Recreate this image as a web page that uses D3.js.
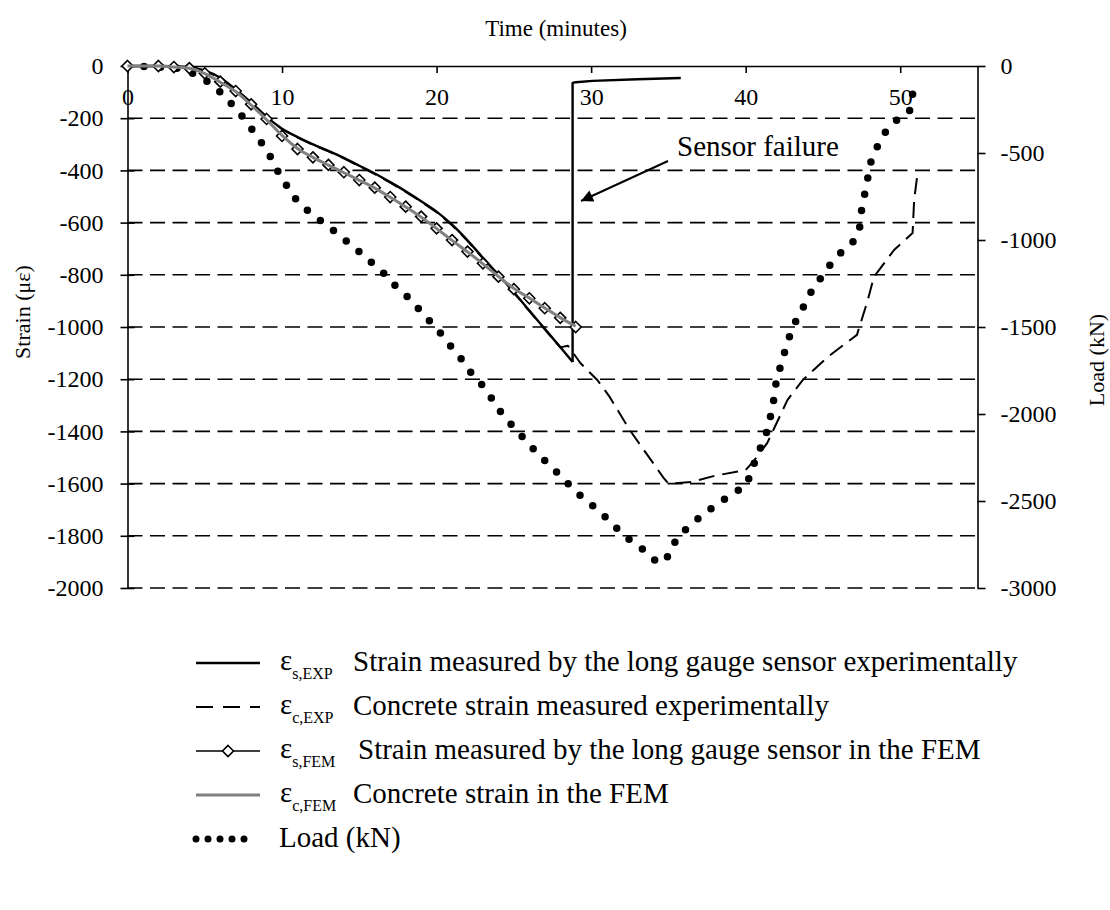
<!DOCTYPE html>
<html>
<head>
<meta charset="utf-8">
<script src="https://cdn.jsdelivr.net/npm/d3@7"></script>
<style>
  html, body { margin: 0; padding: 0; background: #fff; }
  svg { display: block; font-family: "Liberation Serif", "Times New Roman", serif; }
</style>
</head>
<body>
<svg id="chart" width="1110" height="910"></svg>
<script>
// ---- Data ----
const timeTicks = [0, 10, 20, 30, 40, 50];
const strainTicks = [0, -200, -400, -600, -800, -1000, -1200, -1400, -1600, -1800, -2000];
const loadTicks = [0, -500, -1000, -1500, -2000, -2500, -3000];

// ε_s,EXP : long gauge sensor, experiment (rising branch, then failure jump and tail)
const sExpTime   = [0, 2, 4, 5, 6, 7, 8, 9, 10, 11, 12, 13, 14, 15, 16, 17, 18, 19, 20, 21, 22, 23, 24, 25, 26, 27, 28, 28.8, 28.8, 29.0, 30.1, 33, 35.8];
const sExpStrain = [0, 0, -5, -18, -45, -90, -140, -195, -240, -272, -300, -325, -352, -382, -412, -445, -480, -518, -558, -608, -668, -735, -800, -867, -937, -1007, -1077, -1134, -65, -62, -57, -51, -46];
const sExpBreak = 27; // index of the last point before the failure jump

// ε_c,EXP : concrete strain, experiment
const cExpTime   = [0, 2, 4, 5, 6, 7, 8, 9, 10, 11, 12, 13, 14, 15, 16, 17, 18, 19, 20, 21, 22, 23, 24, 25, 26, 27, 28, 28.5, 28.8, 29.3, 30.4, 31.2, 32.5, 34.7, 35.0, 36.5, 38.0, 40.0, 40.5, 41.4, 42.7, 43.7, 45.3, 47.2, 47.9, 48.3, 49.6, 50.8, 50.9, 51.1];
const cExpStrain = [0, 0, -5, -18, -45, -90, -140, -195, -242, -274, -302, -327, -354, -384, -414, -447, -482, -520, -560, -610, -670, -737, -802, -869, -939, -1009, -1078, -1072, -1096, -1138, -1203, -1268, -1395, -1579, -1600, -1594, -1570, -1548, -1515, -1444, -1280, -1203, -1115, -1030, -897, -808, -705, -640, -513, -421];

// ε_s,FEM : long gauge sensor, finite element model
const sFemTime   = [0, 2, 3, 4, 5, 6, 7, 8, 9, 10, 11, 12, 13, 14, 15, 16, 17, 18, 19, 20, 21, 22, 23, 24, 25, 26, 27, 28, 29];
const sFemStrain = [0, 0, -4, -8, -28, -60, -96, -147, -203, -268, -318, -350, -379, -407, -437, -466, -502, -539, -577, -622, -667, -711, -756, -807, -855, -890, -928, -965, -1000];

// ε_c,FEM : concrete strain, finite element model
const cFemTime   = [0, 1, 2, 3, 4, 5, 6, 7, 8, 9, 10, 11, 12, 13, 14, 15, 16, 17, 18, 19, 20, 21, 22, 23, 24, 25, 26, 27, 28, 29];
const cFemStrain = [0, 0, 0, -4, -9, -29, -62, -98, -150, -206, -266, -316, -350, -380, -409, -438, -468, -503, -540, -579, -623, -668, -712, -758, -806, -852, -889, -927, -964, -997];

// Applied load (kN)
const loadTime = [0, 1.0, 3.1, 4.05, 4.95, 5.8, 6.5, 7.2, 7.9, 8.45, 9.1, 9.55, 10.1, 10.6, 11.3, 12.1, 12.95, 13.8, 14.3, 15.1, 15.9, 16.7, 17.4, 18.2, 18.9, 19.6, 20.3, 20.9, 21.6, 22.2, 22.9, 23.5, 24.1, 24.8, 25.5, 26.2, 26.9, 27.7, 28.4, 28.6, 29.4, 30.2, 31.0, 31.7, 32.5, 33.4, 34.1, 34.8, 35.2, 35.8, 36.6, 37.4, 38.3, 39.1, 40.0, 40.4, 40.7, 41.2, 41.5, 41.7, 41.9, 42.0, 42.4, 42.6, 42.9, 43.3, 43.8, 44.3, 44.9, 45.5, 46.2, 47.0, 47.4, 47.5, 47.7, 47.9, 48.1, 48.5, 49.0, 49.7, 50.6, 50.8, 50.8];
const loadKN   = [0, -3, -11, -34, -75, -132, -195, -264, -345, -414, -494, -580, -655, -736, -805, -862, -920, -977, -1017, -1075, -1138, -1201, -1270, -1333, -1402, -1471, -1540, -1609, -1684, -1759, -1828, -1902, -1983, -2057, -2126, -2195, -2259, -2328, -2391, -2408, -2477, -2534, -2598, -2661, -2724, -2782, -2839, -2851, -2764, -2690, -2625, -2567, -2511, -2460, -2414, -2328, -2241, -2149, -2063, -1971, -1879, -1787, -1695, -1609, -1540, -1454, -1374, -1287, -1213, -1138, -1069, -1006, -920, -828, -736, -644, -552, -466, -385, -316, -259, -167, -75];

// Legend entries
const legendSymbols = ["s,EXP", "c,EXP", "s,FEM", "c,FEM", null];
const legendTexts = [
  "Strain measured by the long gauge sensor experimentally",
  "Concrete strain measured experimentally",
  "Strain measured by the long gauge sensor in the FEM",
  "Concrete strain in the FEM",
  "Load (kN)"
];

// ---- Layout ----
const svg = d3.select("#chart");
const plot = { left: 127.5, right: 977.5, top: 66, bottom: 588 };

const x = d3.scaleLinear().domain([0, 55]).range([plot.left, plot.right]);
const yS = d3.scaleLinear().domain([-2000, 0]).range([plot.bottom, plot.top]);
const yL = d3.scaleLinear().domain([-3000, 0]).range([plot.bottom, plot.top]);

const zip = (a, b) => a.map((v, i) => [v, b[i]]);
const plain = d => String(d); // "-200" with an ASCII hyphen, no grouping
const tickFont = 24;

svg.append("rect").attr("width", 1110).attr("height", 910).attr("fill", "#fff");

// Dashed horizontal gridlines
svg.append("g").selectAll("line")
  .data(strainTicks.filter(d => d !== 0))
  .join("line")
  .attr("x1", plot.left).attr("x2", plot.right)
  .attr("y1", d => yS(d)).attr("y2", d => yS(d))
  .attr("stroke", "#000").attr("stroke-width", 1.6)
  .attr("stroke-dasharray", "15,7.5");

// Axes
const axisStyle = g => {
  g.select(".domain").attr("stroke", "#000").attr("stroke-width", 1.6);
  g.selectAll(".tick line").attr("stroke", "#000").attr("stroke-width", 1.6);
  g.selectAll(".tick text").attr("fill", "#000").attr("font-size", tickFont)
    .attr("font-family", "Liberation Serif, Times New Roman, serif");
};

// Top time axis: ticks inward, labels below the line
svg.append("g").attr("transform", `translate(0,${plot.top})`)
  .call(d3.axisBottom(x).tickValues(timeTicks).tickFormat(plain)
    .tickSizeInner(7).tickSizeOuter(0).tickPadding(15))
  .call(axisStyle);

// Left strain axis: crossing ticks
const gyS = svg.append("g").attr("transform", `translate(${plot.left},0)`)
  .call(d3.axisLeft(yS).tickValues(strainTicks).tickFormat(plain)
    .tickSizeInner(7).tickSizeOuter(0).tickPadding(17))
  .call(axisStyle);
gyS.selectAll(".tick line").attr("x1", -7).attr("x2", 7);
gyS.selectAll(".tick text").attr("x", -24);

// Right load axis: outward ticks
svg.append("g").attr("transform", `translate(${plot.right},0)`)
  .call(d3.axisRight(yL).tickValues(loadTicks).tickFormat(plain)
    .tickSizeInner(8).tickSizeOuter(0).tickPadding(15))
  .call(axisStyle);

// Axis titles
svg.append("text").attr("x", 556).attr("y", 36).attr("text-anchor", "middle")
  .attr("font-size", 23).text("Time (minutes)");
svg.append("text").attr("transform", "translate(22,312) rotate(-90)")
  .attr("text-anchor", "middle").attr("dominant-baseline", "central")
  .attr("font-size", 22).text("Strain (με)");
svg.append("text").attr("transform", "translate(1096,360) rotate(-90)")
  .attr("text-anchor", "middle").attr("dominant-baseline", "central")
  .attr("font-size", 22).text("Load (kN)");

// ---- Series ----
const lineS = d3.line().x(d => x(d[0])).y(d => yS(d[1]));
const smoothS = d3.line().x(d => x(d[0])).y(d => yS(d[1])).curve(d3.curveMonotoneX);
const lineL = d3.line().x(d => x(d[0])).y(d => yL(d[1]));

// Applied load: dotted line
svg.append("path").datum(zip(loadTime, loadKN))
  .attr("d", lineL).attr("fill", "none").attr("stroke", "#000")
  .attr("stroke-width", 7.5).attr("stroke-linecap", "round")
  .attr("stroke-dasharray", "0,16.5");

// Concrete strain, experiment: dashed
svg.append("path").datum(zip(cExpTime, cExpStrain))
  .attr("d", lineS).attr("fill", "none").attr("stroke", "#000")
  .attr("stroke-width", 2).attr("stroke-dasharray", "16,8")
  .attr("stroke-linejoin", "round");

// Sensor strain, experiment: smooth rising branch, then the failure jump
const sExp = zip(sExpTime, sExpStrain);
svg.append("path").datum(sExp.slice(0, sExpBreak + 1))
  .attr("d", smoothS).attr("fill", "none").attr("stroke", "#000")
  .attr("stroke-width", 2.4).attr("stroke-linejoin", "round");
svg.append("path").datum(sExp.slice(sExpBreak))
  .attr("d", lineS).attr("fill", "none").attr("stroke", "#000")
  .attr("stroke-width", 2.4).attr("stroke-linejoin", "round");

// Sensor strain, FEM: thin line with diamonds
svg.append("path").datum(zip(sFemTime, sFemStrain))
  .attr("d", lineS).attr("fill", "none").attr("stroke", "#000")
  .attr("stroke-width", 1.4);
const diamond = "M0,-5.5L5.5,0L0,5.5L-5.5,0Z";
svg.append("g").selectAll("path")
  .data(zip(sFemTime, sFemStrain))
  .join("path")
  .attr("d", diamond)
  .attr("transform", d => `translate(${x(d[0])},${yS(d[1])})`)
  .attr("fill", "#fff").attr("stroke", "#000").attr("stroke-width", 1.6);

// Concrete strain, FEM: grey line
svg.append("path").datum(zip(cFemTime, cFemStrain))
  .attr("d", smoothS).attr("fill", "none").attr("stroke", "#808080")
  .attr("stroke-width", 3).attr("stroke-linejoin", "round");

// ---- Annotation ----
svg.append("defs").append("marker")
  .attr("id", "arrowhead").attr("viewBox", "0 0 10 10")
  .attr("refX", 10).attr("refY", 5)
  .attr("markerWidth", 8).attr("markerHeight", 6)
  .attr("markerUnits", "strokeWidth").attr("orient", "auto")
  .append("path").attr("d", "M0,0 L10,5 L0,10 z").attr("fill", "#000");
svg.append("line")
  .attr("x1", 668).attr("y1", 161).attr("x2", 581).attr("y2", 201)
  .attr("stroke", "#000").attr("stroke-width", 2)
  .attr("marker-end", "url(#arrowhead)");
svg.append("text").attr("x", 677).attr("y", 156)
  .attr("font-size", 29).text("Sensor failure");

// ---- Legend ----
const legendRows = [663, 707, 751, 795, 839];
const lg = svg.append("g");
const lx0 = 196, lx1 = 260;
const legendFont = 29;

legendRows.forEach((ry, i) => {
  if (i === 0) {
    lg.append("line").attr("x1", lx0).attr("x2", lx1).attr("y1", ry).attr("y2", ry)
      .attr("stroke", "#000").attr("stroke-width", 2.4);
  } else if (i === 1) {
    lg.append("line").attr("x1", lx0).attr("x2", lx1).attr("y1", ry).attr("y2", ry)
      .attr("stroke", "#000").attr("stroke-width", 2).attr("stroke-dasharray", "17,10");
  } else if (i === 2) {
    lg.append("line").attr("x1", lx0).attr("x2", lx1).attr("y1", ry).attr("y2", ry)
      .attr("stroke", "#000").attr("stroke-width", 1.4);
    lg.append("path").attr("d", diamond)
      .attr("transform", `translate(${(lx0 + lx1) / 2},${ry})`)
      .attr("fill", "#fff").attr("stroke", "#000").attr("stroke-width", 1.6);
  } else if (i === 3) {
    lg.append("line").attr("x1", lx0).attr("x2", lx1).attr("y1", ry).attr("y2", ry)
      .attr("stroke", "#808080").attr("stroke-width", 3);
  } else {
    lg.append("line").attr("x1", lx0).attr("x2", lx1 - 14).attr("y1", ry).attr("y2", ry)
      .attr("stroke", "#000").attr("stroke-width", 7).attr("stroke-linecap", "round")
      .attr("stroke-dasharray", "0,12");
  }

  if (legendSymbols[i]) {
    const t = lg.append("text").attr("x", 280).attr("y", ry + 7).attr("font-size", legendFont);
    t.append("tspan").text("ε");
    t.append("tspan").attr("dy", 9).attr("font-size", 16).text(legendSymbols[i]);
    lg.append("text").attr("x", i === 2 ? 358 : 353).attr("y", ry + 8)
      .attr("font-size", legendFont).text(legendTexts[i]);
  } else {
    lg.append("text").attr("x", 279).attr("y", ry + 8)
      .attr("font-size", legendFont).text(legendTexts[i]);
  }
});
</script>
</body>
</html>
